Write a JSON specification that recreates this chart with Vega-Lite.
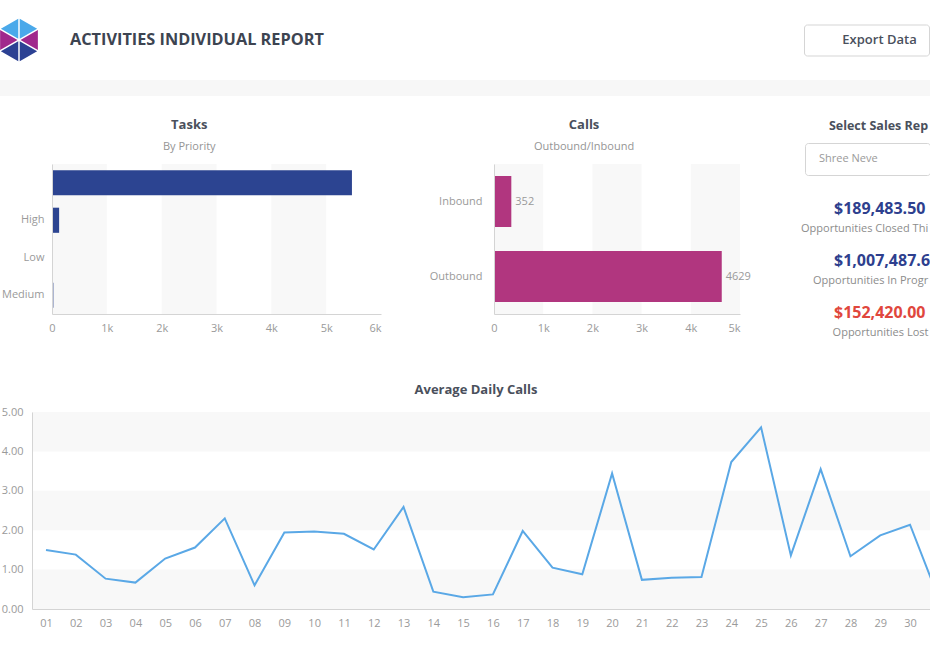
{
  "$schema": "https://vega.github.io/schema/vega-lite/v6.json",
  "background": "white",
  "padding": {"left": 0, "top": 17, "right": 0, "bottom": 5},
  "config": {
    "font": "Open Sans",
    "view": {"stroke": null},
    "title": {"fontSize": 13, "fontWeight": "bold", "color": "#4a505c", "subtitleFontSize": 11, "subtitleColor": "#959595", "subtitleFontWeight": "normal", "subtitlePadding": 9, "offset": 12},
    "axis": {"labelFont": "Open Sans", "labelFontSize": 11, "labelColor": "#9a9a9a", "ticks": false, "tickSize": 0, "grid": false, "domainColor": "#d4d4d4", "labelPadding": 8, "zindex": 1}
  },
  "datasets": {
    "kpi": [
      {"metric": "Opportunities Closed This Month", "amount": 189483.5},
      {"metric": "Opportunities In Progress", "amount": 1007487.6},
      {"metric": "Opportunities Lost", "amount": 152420}
    ]
  },
  "resolve": {"scale": {"color": "independent", "shape": "independent"}, "legend": {"color": "independent", "shape": "independent"}},
  "spacing": 0,
  "vconcat": [
    {
      "hconcat": [
        {
          "width": 38, "height": 46,
          "layer": [
            {
              "data": {"values": [{"part": "top"}, {"part": "middle"}, {"part": "bottom"}]},
              "mark": {"type": "point", "filled": true, "opacity": 1, "strokeWidth": 0, "size": 1900},
              "encoding": {
                "shape": {"field": "part", "type": "nominal", "legend": null, "scale": {"domain": ["top", "middle", "bottom"], "range": ["M-0.034,-0.059L-0.034,-0.98L-0.832,-0.52Z M0.034,-0.059L0.034,-0.98L0.832,-0.52Z", "M-0.068,0L-0.866,-0.461L-0.866,0.461Z M0.068,0L0.866,-0.461L0.866,0.461Z", "M-0.034,0.059L-0.034,0.98L-0.832,0.52Z M0.034,0.059L0.034,0.98L0.832,0.52Z"]}},
                "color": {"field": "part", "type": "nominal", "legend": null, "scale": {"domain": ["top", "middle", "bottom"], "range": ["#4aa9ea", "#a0288c", "#2c4193"]}}
              }
            },
            {
              "data": {"values": [{"report": "ACTIVITIES INDIVIDUAL REPORT"}]},
              "mark": {"type": "text", "align": "left", "baseline": "middle", "dx": 51, "fontSize": 16.3, "fontWeight": "bold", "color": "#3d4451"},
              "encoding": {"text": {"field": "report"}}
            }
          ]
        },
        {
          "width": 125, "height": 31,
          "view": {"stroke": "#d5d5d5", "strokeWidth": 1, "cornerRadius": 3},
          "data": {"values": [{"action": "Export Data"}]},
          "mark": {"type": "text", "baseline": "middle", "align": "center", "dx": 13, "fontSize": 13, "fontWeight": 600, "color": "#4a505c"},
          "encoding": {"text": {"field": "action"}}
        }
      ],
      "bounds": "flush",
      "spacing": 766,
      "center": true
    },
    {"width": 1, "height": 17, "data": {"values": []}, "mark": "point"},
    {"width": 930, "height": 16, "view": {"fill": "#f7f7f7", "stroke": null}, "data": {"values": []}, "mark": "point"},
    {"width": 1, "height": 22, "data": {"values": []}, "mark": "point"},
    {
      "spacing": 0,
      "hconcat": [
        {"width": 1, "height": 1, "data": {"values": []}, "mark": "point"},
        {
          "spacing": 0,
          "vconcat": [
            {"width": 1, "height": 1, "data": {"values": []}, "mark": "point"},
            {
              "width": 329, "height": 150,
              "title": {"text": "Tasks", "subtitle": "By Priority", "frame": "bounds", "dx": -2},
              "layer": [
                {
                  "data": {"values": [{"from": 0, "to": 1000}, {"from": 2000, "to": 3000}, {"from": 4000, "to": 5000}]},
                  "mark": {"type": "rect", "color": "#f8f8f8"},
                  "encoding": {
                    "x": {"field": "from", "type": "quantitative", "scale": {"domain": [0, 6000], "nice": false}, "axis": {"title": null, "zindex": 1, "values": [0, 1000, 2000, 3000, 4000, 5000, 6000], "labelExpr": "datum.value ? datum.value / 1000 + 'k' : '0'", "labelFlush": false, "labelAlign": {"condition": {"test": "datum.value === 6000", "value": "right"}, "value": "center"}}},
                    "x2": {"field": "to"}
                  }
                },
                {
                  "data": {"values": [
                    {"priority": "", "tasks": 5470},
                    {"priority": "High", "tasks": 130},
                    {"priority": "Low", "tasks": 6},
                    {"priority": "Medium", "tasks": 25}
                  ]},
                  "mark": {"type": "bar", "color": "#2c4491"},
                  "encoding": {
                    "y": {"field": "priority", "type": "nominal", "sort": null, "scale": {"paddingInner": 0.33, "paddingOuter": 0.165}, "axis": {"title": null, "zindex": 1, "labelPadding": 8}},
                    "x": {"field": "tasks", "type": "quantitative", "scale": {"domain": [0, 6000], "nice": false}, "axis": {"title": null, "zindex": 1, "values": [0, 1000, 2000, 3000, 4000, 5000, 6000], "labelExpr": "datum.value ? datum.value / 1000 + 'k' : '0'", "labelFlush": false, "labelAlign": {"condition": {"test": "datum.value === 6000", "value": "right"}, "value": "center"}}}
                  }
                }
              ]
            }
          ]
        },
        {"width": 48, "height": 1, "data": {"values": []}, "mark": "point"},
        {
          "spacing": 0,
          "vconcat": [
            {"width": 1, "height": 1, "data": {"values": []}, "mark": "point"},
            {
              "width": 246, "height": 150,
              "title": {"text": "Calls", "subtitle": "Outbound/Inbound", "frame": "bounds", "dx": -6},
              "layer": [
                {
                  "data": {"values": [{"from": 0, "to": 1000}, {"from": 2000, "to": 3000}, {"from": 4000, "to": 5000}]},
                  "mark": {"type": "rect", "color": "#f8f8f8"},
                  "encoding": {
                    "x": {"field": "from", "type": "quantitative", "scale": {"domain": [0, 5000], "nice": false}, "axis": {"title": null, "zindex": 1, "values": [0, 1000, 2000, 3000, 4000, 5000], "labelExpr": "datum.value ? datum.value / 1000 + 'k' : '0'", "labelFlush": false, "labelAlign": {"condition": {"test": "datum.value === 5000", "value": "right"}, "value": "center"}}},
                    "x2": {"field": "to"}
                  }
                },
                {
                  "data": {"values": [{"direction": "Inbound", "calls": 352}, {"direction": "Outbound", "calls": 4629}]},
                  "layer": [
                    {"mark": {"type": "bar", "color": "#b1367f"}},
                    {
                      "mark": {"type": "text", "align": "left", "baseline": "middle", "dx": 4, "fontSize": 11, "color": "#9a9a9a"},
                      "encoding": {"text": {"field": "calls", "type": "quantitative"}}
                    }
                  ],
                  "encoding": {
                    "y": {"field": "direction", "type": "nominal", "sort": ["Inbound", "Outbound"], "scale": {"paddingInner": 0.32, "paddingOuter": 0.16}, "axis": {"title": null, "zindex": 1, "labelPadding": 12}},
                    "x": {"field": "calls", "type": "quantitative", "scale": {"domain": [0, 5000], "nice": false}, "axis": {"title": null, "zindex": 1, "values": [0, 1000, 2000, 3000, 4000, 5000], "labelExpr": "datum.value ? datum.value / 1000 + 'k' : '0'", "labelFlush": false, "labelAlign": {"condition": {"test": "datum.value === 5000", "value": "right"}, "value": "center"}}}
                  }
                }
              ]
            }
          ]
        },
        {"width": 49, "height": 1, "data": {"values": []}, "mark": "point"},
        {
          "spacing": 0,
          "vconcat": [
            {"width": 1, "height": 1, "data": {"values": []}, "mark": "point"},
            {
              "width": 125, "height": 32,
              "view": {"stroke": "#d5d5d5", "cornerRadius": 3},
              "title": {"text": "Select Sales Rep", "fontSize": 12.5, "offset": 11, "dx": 11, "frame": "group"},
              "layer": [
                {
                  "data": {"values": [{"rep": "Shree Neve"}]},
                  "mark": {"type": "text", "align": "left", "baseline": "middle", "dx": -48.5, "fontSize": 11, "color": "#9a9a9a"},
                  "encoding": {"text": {"field": "rep"}}
                },
                {
                  "data": {"name": "kpi"},
                  "mark": {"type": "text", "align": "left", "baseline": "middle", "dx": -33.5, "fontSize": 16, "fontWeight": "bold", "limit": 97, "ellipsis": "\u200b"},
                  "encoding": {
                    "y": {"field": "metric", "type": "nominal", "axis": null, "scale": {"type": "point", "padding": 0, "domain": ["Opportunities Closed This Month", "Opportunities In Progress", "Opportunities Lost"], "range": [66, 170]}},
                    "text": {"field": "amount", "type": "quantitative", "format": "$,.2f"},
                    "color": {"field": "metric", "type": "nominal", "legend": null, "scale": {"domain": ["Opportunities Closed This Month", "Opportunities In Progress", "Opportunities Lost"], "range": ["#2e3f8e", "#2e3f8e", "#e0473d"]}}
                  }
                },
                {
                  "data": {"name": "kpi"},
                  "transform": [{"filter": "datum.metric === 'Opportunities Closed This Month'"}],
                  "mark": {"type": "text", "align": "left", "baseline": "middle", "dx": -66.5, "dy": 19.5, "fontSize": 11, "color": "#8c8c8c", "limit": 130, "ellipsis": "\u200b"},
                  "encoding": {
                    "y": {"field": "metric", "type": "nominal", "axis": null, "scale": {"type": "point", "padding": 0, "domain": ["Opportunities Closed This Month", "Opportunities In Progress", "Opportunities Lost"], "range": [66, 170]}},
                    "text": {"field": "metric"}
                  }
                },
                {
                  "data": {"name": "kpi"},
                  "transform": [{"filter": "datum.metric === 'Opportunities In Progress'"}],
                  "mark": {"type": "text", "align": "left", "baseline": "middle", "dx": -54.5, "dy": 19.5, "fontSize": 11, "color": "#8c8c8c", "limit": 118, "ellipsis": "\u200b"},
                  "encoding": {
                    "y": {"field": "metric", "type": "nominal", "axis": null, "scale": {"type": "point", "padding": 0, "domain": ["Opportunities Closed This Month", "Opportunities In Progress", "Opportunities Lost"], "range": [66, 170]}},
                    "text": {"field": "metric"}
                  }
                },
                {
                  "data": {"name": "kpi"},
                  "transform": [{"filter": "datum.metric === 'Opportunities Lost'"}],
                  "mark": {"type": "text", "align": "center", "baseline": "middle", "dx": 13, "dy": 19.5, "fontSize": 11, "color": "#8c8c8c"},
                  "encoding": {
                    "y": {"field": "metric", "type": "nominal", "axis": null, "scale": {"type": "point", "padding": 0, "domain": ["Opportunities Closed This Month", "Opportunities In Progress", "Opportunities Lost"], "range": [66, 170]}},
                    "text": {"field": "metric"}
                  }
                }
              ]
            }
          ]
        }
      ]
    },
    {"width": 1, "height": 46, "data": {"values": []}, "mark": "point"},
    {
      "spacing": 0,
      "hconcat": [
        {"width": 1, "height": 1, "data": {"values": []}, "mark": "point"},
        {
          "width": 898, "height": 197,
          "title": {"text": "Average Daily Calls", "offset": 9, "dx": -5, "frame": "group"},
          "layer": [
            {
              "data": {"values": [{"lo": 0, "hi": 1}, {"lo": 2, "hi": 3}, {"lo": 4, "hi": 5}]},
              "mark": {"type": "rect", "color": "#f8f8f8"},
              "encoding": {
                "y": {"field": "lo", "type": "quantitative", "scale": {"domain": [0, 5], "nice": false}, "axis": {"title": null, "zindex": 1, "values": [0, 1, 2, 3, 4, 5], "format": ".2f", "labelPadding": 9, "labelOverlap": false}},
                "y2": {"field": "hi"}
              }
            },
            {
              "data": {"values": [
                {"day": 1, "avg": 1.50}, {"day": 2, "avg": 1.38}, {"day": 3, "avg": 0.77}, {"day": 4, "avg": 0.67},
                {"day": 5, "avg": 1.28}, {"day": 6, "avg": 1.56}, {"day": 7, "avg": 2.30}, {"day": 8, "avg": 0.60},
                {"day": 9, "avg": 1.94}, {"day": 10, "avg": 1.97}, {"day": 11, "avg": 1.91}, {"day": 12, "avg": 1.51},
                {"day": 13, "avg": 2.59}, {"day": 14, "avg": 0.44}, {"day": 15, "avg": 0.30}, {"day": 16, "avg": 0.37},
                {"day": 17, "avg": 1.98}, {"day": 18, "avg": 1.05}, {"day": 19, "avg": 0.88}, {"day": 20, "avg": 3.44},
                {"day": 21, "avg": 0.74}, {"day": 22, "avg": 0.79}, {"day": 23, "avg": 0.81}, {"day": 24, "avg": 3.73},
                {"day": 25, "avg": 4.61}, {"day": 26, "avg": 1.36}, {"day": 27, "avg": 3.55}, {"day": 28, "avg": 1.34},
                {"day": 29, "avg": 1.87}, {"day": 30, "avg": 2.14}, {"day": 31, "avg": 0.20}
              ]},
              "mark": {"type": "line", "color": "#5aa8e6", "strokeWidth": 2, "clip": true},
              "encoding": {
                "x": {"field": "day", "type": "quantitative", "scale": {"domain": [0.53, 30.67], "nice": false, "zero": false}, "axis": {"title": null, "zindex": 1, "values": [1, 2, 3, 4, 5, 6, 7, 8, 9, 10, 11, 12, 13, 14, 15, 16, 17, 18, 19, 20, 21, 22, 23, 24, 25, 26, 27, 28, 29, 30], "format": "02d", "labelPadding": 8.5, "labelOverlap": false}},
                "y": {"field": "avg", "type": "quantitative", "scale": {"domain": [0, 5], "nice": false}, "axis": {"title": null, "zindex": 1, "values": [0, 1, 2, 3, 4, 5], "format": ".2f", "labelPadding": 9, "labelOverlap": false}}
              }
            }
          ]
        }
      ]
    }
  ]
}
